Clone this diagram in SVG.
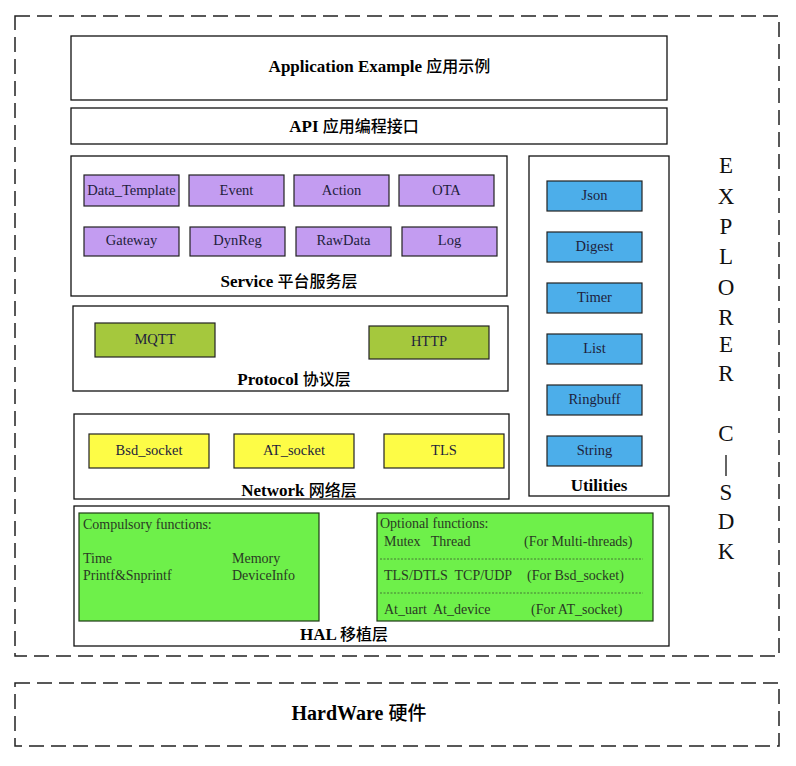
<svg xmlns="http://www.w3.org/2000/svg" width="796" height="766" viewBox="0 0 796 766">
<style>
.dash{fill:none;stroke:#222;stroke-width:1.5;stroke-dasharray:15 7}
.layer{fill:#fff;stroke:#111;stroke-width:1.3}
.lbl{font-family:"Liberation Serif",serif;font-weight:bold;font-size:17px;fill:#000;text-anchor:middle}
.cjk{font-family:"Noto Sans CJK SC",sans-serif;font-weight:500;font-size:16px}
.svc{fill:#C39CF1;stroke:#222;stroke-width:1.2}
.utl{fill:#4CAEEA;stroke:#222;stroke-width:1.2}
.pro{fill:#A5C83D;stroke:#222;stroke-width:1.2}
.net{fill:#FDFC46;stroke:#222;stroke-width:1.2}
.hal{fill:#6EF04A;stroke:#1d3a14;stroke-width:1.2}
.bt{font-family:"Liberation Serif",serif;font-size:14.5px;fill:#1e1e3c;text-anchor:middle}
.ht{font-family:"Liberation Serif",serif;font-size:14px;fill:#2a3a24}
.sep{stroke:#3a5a30;stroke-width:0.8;stroke-dasharray:2 1.5}
.vt{font-family:"Liberation Serif",serif;font-size:23px;fill:#111;text-anchor:middle}
</style>
<rect width="796" height="766" fill="#fff"/>
<g id="sdk-frame">
<rect class="dash" x="15" y="16" width="764" height="640"/>
<text class="vt" x="726" y="173">E</text>
<text class="vt" x="726" y="204">X</text>
<text class="vt" x="726" y="234">P</text>
<text class="vt" x="726" y="264">L</text>
<text class="vt" x="726" y="295">O</text>
<text class="vt" x="726" y="325">R</text>
<text class="vt" x="726" y="352">E</text>
<text class="vt" x="726" y="381">R</text>
<text class="vt" x="726" y="441">C</text>
<line x1="726" y1="455" x2="726" y2="476" stroke="#111" stroke-width="1.3"/>
<text class="vt" x="726" y="500">S</text>
<text class="vt" x="726" y="529">D</text>
<text class="vt" x="726" y="559">K</text>
</g>
<g id="application">
<rect class="layer" x="71" y="36" width="596" height="64"/>
<text class="lbl" x="379.5" y="72">Application Example <tspan class="cjk">应用示例</tspan></text>
</g>
<g id="api">
<rect class="layer" x="71" y="108" width="596" height="36"/>
<text class="lbl" x="354" y="132">API <tspan class="cjk">应用编程接口</tspan></text>
</g>
<g id="service">
<rect class="layer" x="71" y="156" width="436" height="140"/>
<rect class="svc" x="84" y="175" width="95" height="31"/><text class="bt" x="131.5" y="195">Data_Template</text>
<rect class="svc" x="189" y="175" width="95" height="31"/><text class="bt" x="236.5" y="195">Event</text>
<rect class="svc" x="294" y="175" width="95" height="31"/><text class="bt" x="341.5" y="195">Action</text>
<rect class="svc" x="399" y="175" width="95" height="31"/><text class="bt" x="446.5" y="195">OTA</text>
<rect class="svc" x="84" y="227" width="95" height="29"/><text class="bt" x="131.5" y="245">Gateway</text>
<rect class="svc" x="190" y="227" width="95" height="29"/><text class="bt" x="237.5" y="245">DynReg</text>
<rect class="svc" x="296" y="227" width="95" height="29"/><text class="bt" x="343.5" y="245">RawData</text>
<rect class="svc" x="402" y="227" width="95" height="29"/><text class="bt" x="449.5" y="245">Log</text>
<text class="lbl" x="289" y="287">Service <tspan class="cjk">平台服务层</tspan></text>
</g>
<g id="utilities">
<rect class="layer" x="529" y="156" width="140" height="340"/>
<rect class="utl" x="547" y="181" width="95" height="30"/><text class="bt" x="594.5" y="200">Json</text>
<rect class="utl" x="547" y="232" width="95" height="30"/><text class="bt" x="594.5" y="251">Digest</text>
<rect class="utl" x="547" y="283" width="95" height="30"/><text class="bt" x="594.5" y="302">Timer</text>
<rect class="utl" x="547" y="334" width="95" height="30"/><text class="bt" x="594.5" y="353">List</text>
<rect class="utl" x="547" y="385" width="95" height="30"/><text class="bt" x="594.5" y="404">Ringbuff</text>
<rect class="utl" x="547" y="436" width="95" height="30"/><text class="bt" x="594.5" y="455">String</text>
<text class="lbl" x="599" y="491">Utilities</text>
</g>
<g id="protocol">
<rect class="layer" x="73" y="306" width="435" height="85"/>
<rect class="pro" x="95" y="323" width="120" height="34"/><text class="bt" x="155" y="344">MQTT</text>
<rect class="pro" x="369" y="326" width="120" height="33"/><text class="bt" x="429" y="346">HTTP</text>
<text class="lbl" x="294" y="385">Protocol <tspan class="cjk">协议层</tspan></text>
</g>
<g id="network">
<rect class="layer" x="74" y="414" width="435" height="85"/>
<rect class="net" x="89" y="434" width="120" height="34"/><text class="bt" x="149" y="455">Bsd_socket</text>
<rect class="net" x="234" y="434" width="120" height="34"/><text class="bt" x="294" y="455">AT_socket</text>
<rect class="net" x="384" y="434" width="120" height="34"/><text class="bt" x="444" y="455">TLS</text>
<text class="lbl" x="299" y="496">Network <tspan class="cjk">网络层</tspan></text>
</g>
<g id="hal">
<rect class="layer" x="74" y="506" width="595" height="140"/>
<rect class="hal" x="79" y="513" width="240" height="108"/>
<text class="ht" x="83" y="529">Compulsory functions:</text>
<text class="ht" x="83" y="563">Time</text>
<text class="ht" x="232" y="563">Memory</text>
<text class="ht" x="83" y="580">Printf&amp;Snprintf</text>
<text class="ht" x="232" y="580">DeviceInfo</text>
<rect class="hal" x="377" y="513" width="276" height="108"/>
<text class="ht" x="380" y="528">Optional functions:</text>
<text class="ht" x="384" y="546" xml:space="preserve">Mutex   Thread</text>
<text class="ht" x="524" y="546">(For Multi-threads)</text>
<line class="sep" x1="380" y1="559" x2="643" y2="559"/>
<text class="ht" x="384" y="580" xml:space="preserve">TLS/DTLS  TCP/UDP</text>
<text class="ht" x="527" y="580">(For Bsd_socket)</text>
<line class="sep" x1="380" y1="593" x2="643" y2="593"/>
<text class="ht" x="384" y="614" xml:space="preserve">At_uart  At_device</text>
<text class="ht" x="531" y="614">(For AT_socket)</text>
<text class="lbl" x="344" y="640">HAL <tspan class="cjk">移植层</tspan></text>
</g>
<g id="hardware">
<rect class="dash" x="15" y="683" width="764" height="63"/>
<text class="lbl" x="359" y="720" style="font-size:20px">HardWare <tspan class="cjk" style="font-size:19px">硬件</tspan></text>
</g>
<g id="connectors"></g>
</svg>
